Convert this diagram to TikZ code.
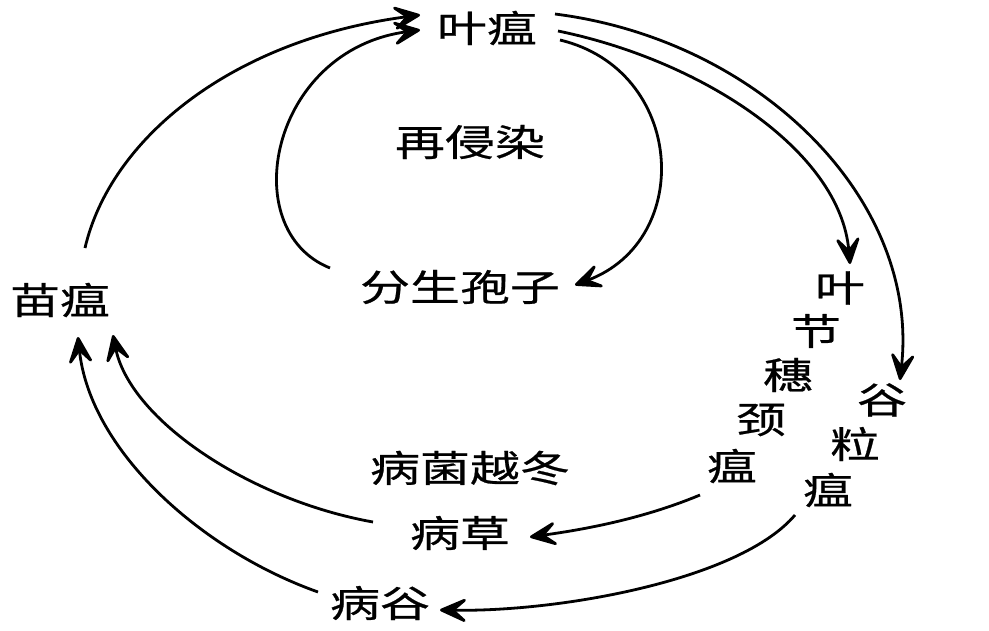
\documentclass[tikz,border=0pt]{standalone}
\usepackage{fontspec}
\newfontfamily\cjk[FakeStretch=1.35,FakeBold=0.6]{Noto Sans CJK SC}
\usetikzlibrary{arrows.meta}
\begin{document}
\begin{tikzpicture}[x=1pt,y=-1pt,
  lbl/.style={inner sep=0pt,font=\cjk\fontsize{37}{37}\selectfont},
  conn/.style={line width=2.8pt,-{Stealth[length=34pt,width=30pt,inset=17pt,round]}}]
\useasboundingbox[fill=white] (0,0) rectangle (989,630);
% nodes
\node[lbl] (ye) at (487,28) {叶瘟};
\node[lbl] (zai) at (470,142) {再侵染};
\node[lbl] (fen) at (460,287) {分生孢子};
\node[lbl] (miao) at (60,300) {苗瘟};
\node[lbl] (yue) at (470,468) {病菌越冬};
\node[lbl] (cao) at (460,533) {病草};
\node[lbl] (gu) at (380,603) {病谷};
\node[lbl] (v1) at (840,288) {叶};
\node[lbl] (v2) at (816,331) {节};
\node[lbl] (v3) at (788,375) {穗};
\node[lbl] (v4) at (761,420) {颈};
\node[lbl] (v5) at (732,466) {瘟};
\node[lbl] (g1) at (882,400) {谷};
\node[lbl] (g2) at (855,444) {粒};
\node[lbl] (g3) at (828,490) {瘟};
% connector end points
\coordinate (miaoT) at (85,248);
\coordinate (yeA) at (420,15);
\coordinate (fenL) at (330,268);
\coordinate (yeB) at (420,30);
\coordinate (yeR1) at (560,40);
\coordinate (fenR) at (575,285);
\coordinate (yeR2) at (558,31);
\coordinate (v1T) at (850,264);
\coordinate (yeR3) at (555,14);
\coordinate (g1T) at (900,380);
\coordinate (v5B) at (700,495);
\coordinate (caoR) at (530,537);
\coordinate (g3B) at (795,515);
\coordinate (guR) at (440,610);
\coordinate (caoL) at (373,522);
\coordinate (miaoB1) at (113,335);
\coordinate (guL) at (318,592);
\coordinate (miaoB2) at (78,337);
% connectors
\draw[conn] (miaoT) .. controls (110,140) and (230,40) .. (yeA);
\draw[conn] (fenL) .. controls (235,230) and (270,50) .. (yeB);
\draw[conn] (yeR1) .. controls (685,70) and (695,240) .. (fenR);
\draw[conn] (yeR2) .. controls (700,60) and (840,150) .. (v1T);
\draw[conn] (yeR3) .. controls (760,40) and (920,200) .. (g1T);
\draw[conn] (v5B) .. controls (640,520) and (580,530) .. (caoR);
\draw[conn] (g3B) .. controls (740,580) and (560,612) .. (guR);
\draw[conn] (caoL) .. controls (250,500) and (130,420) .. (miaoB1);
\draw[conn] (guL) .. controls (200,550) and (90,450) .. (miaoB2);
\end{tikzpicture}
\end{document}
